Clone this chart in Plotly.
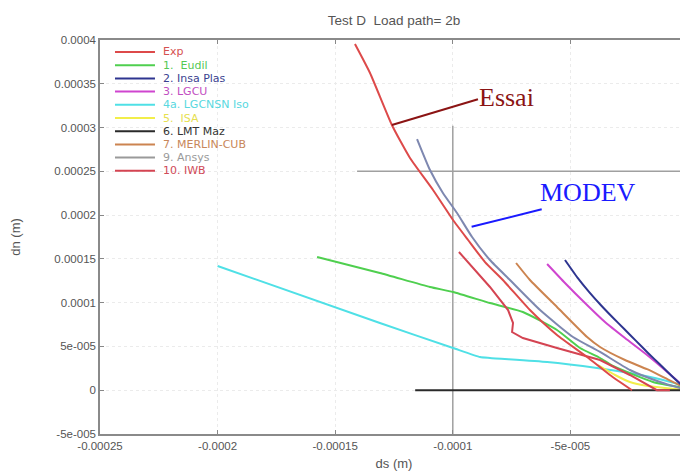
import plotly.graph_objects as go

# ---------------- data (m) ----------------
title_text = "Test D  Load path= 2b"
x_tick_vals = [-0.00025, -0.0002, -0.00015, -0.0001, -0.00005, 0]
x_tick_text = ["-0.00025", "-0.0002", "-0.00015", "-0.0001", "-5e-005", "0"]
y_tick_vals = [-0.00005, 0, 0.00005, 0.0001, 0.00015, 0.0002, 0.00025, 0.0003, 0.00035, 0.0004]
y_tick_text = ["-5e-005", "0", "5e-005", "0.0001", "0.00015", "0.0002", "0.00025", "0.0003", "0.00035", "0.0004"]

exp_ds = [-141.6e-6, -135.2e-6, -125.9e-6, -118.2e-6, -108.4e-6, -99.9e-6, -93.5e-6, -86.3e-6, -78.7e-6, -67.2e-6, -55.7e-6, -42.9e-6, -33.2e-6, -23.8e-6]
exp_dn = [395.4e-6, 362.3e-6, 302.9e-6, 265.2e-6, 228.7e-6, 194.4e-6, 171.6e-6, 146.4e-6, 125.9e-6, 91.6e-6, 63.1e-6, 37.9e-6, 17.4e-6, 0.0]

eudil_ds = [-157.7e-6, -131.0e-6, -109.7e-6, -99.9e-6, -84.2e-6, -70.2e-6, -55.7e-6, -45.9e-6, -37.4e-6, -31.9e-6, -14.9e-6, -1.3e-6]
eudil_dn = [152.2e-6, 133.9e-6, 117.9e-6, 112.2e-6, 99.6e-6, 89.3e-6, 68.8e-6, 48.2e-6, 36.8e-6, 27.7e-6, 9.4e-6, 2.5e-6]

insa_ds = [-52.3e-6, -47.0e-6, -42.0e-6, -37.0e-6, -32.0e-6, -27.0e-6, -22.0e-6, -17.0e-6, -12.0e-6, -7.0e-6, -3.0e-6, 0.0]
insa_dn = [148.7e-6, 128.6e-6, 112.1e-6, 97.1e-6, 83.1e-6, 69.6e-6, 56.1e-6, 42.6e-6, 29.6e-6, 16.6e-6, 6.6e-6, 0.0]

lgcu_ds = [-59.9e-6, -52.3e-6, -43.8e-6, -35.3e-6, -26.8e-6, -17.4e-6, -9.8e-6, -3.4e-6, 0.0]
lgcu_dn = [144.2e-6, 122.5e-6, 99.6e-6, 77.9e-6, 59.6e-6, 40.2e-6, 23.1e-6, 8.2e-6, 0.0]

lgcnsn_ds = [-200.0e-6, -131.0e-6, -99.9e-6, -88.4e-6, -84.2e-6, -59.9e-6, -38.7e-6, -24.7e-6, -10.6e-6, -2.1e-6, 0.0]
lgcnsn_dn = [141.9e-6, 76.8e-6, 48.2e-6, 37.9e-6, 36.8e-6, 32.2e-6, 25.4e-6, 19.7e-6, 11.7e-6, 4.8e-6, 0.0]

isa_ds = [-38.3e-6, -31.0e-6, -24.7e-6, -17.0e-6, -9.8e-6, 0.0]
isa_dn = [28.8e-6, 17.4e-6, 9.4e-6, 4.8e-6, 2.5e-6, 0.0]

lmt_ds = [-116.0e-6, 0.0]
lmt_dn = [0.0, 0.0]

merlin_ds = [-73.1e-6, -67.2e-6, -55.7e-6, -42.9e-6, -37.4e-6, -26.8e-6, -17.4e-6, -9.8e-6, -2.1e-6, 0.0]
merlin_dn = [145.3e-6, 125.9e-6, 95.1e-6, 60.8e-6, 49.4e-6, 34.5e-6, 24.0e-6, 14.0e-6, 3.7e-6, 0.0]

ansys_ds = [-115.2e-6, -109.7e-6, -104.2e-6, -98.2e-6, -91.8e-6, -84.2e-6, -75.7e-6, -62.9e-6, -48.9e-6, -37.4e-6, -24.7e-6, -11.9e-6, -3.4e-6, 0.0]
ansys_dn = [286.9e-6, 251.5e-6, 225.3e-6, 202.4e-6, 175.0e-6, 148.7e-6, 125.9e-6, 91.6e-6, 60.8e-6, 43.7e-6, 23.1e-6, 9.4e-6, 2.5e-6, 0.0]

iwb_ds = [-97.4e-6, -89.7e-6, -84.2e-6, -76.5e-6, -74.4e-6, -74.8e-6, -70.2e-6, -55.7e-6, -44.6e-6, -37.4e-6, -24.7e-6, -13.2e-6, -7.7e-6]
iwb_dn = [157.9e-6, 133.9e-6, 117.9e-6, 91.6e-6, 76.8e-6, 66.5e-6, 59.6e-6, 48.2e-6, 40.2e-6, 34.5e-6, 17.4e-6, 0.0, 0.0]

# reference cross lines (gray)
hline_ds = [-140.7e-6, 0.0]
hline_dn = [250e-6, 250e-6]
vline_ds = [-100e-6, -100e-6]
vline_dn = [302e-6, -50e-6]

series_names = ["Exp", "1.  Eudil", "2. Insa Plas", "3. LGCU", "4a. LGCNSN Iso", "5.  ISA",
                "6. LMT Maz", "7. MERLIN-CUB", "9. Ansys", "10. IWB"]
series_ds = [exp_ds, eudil_ds, insa_ds, lgcu_ds, lgcnsn_ds, isa_ds, lmt_ds, merlin_ds, ansys_ds, iwb_ds]
series_dn = [exp_dn, eudil_dn, insa_dn, lgcu_dn, lgcnsn_dn, isa_dn, lmt_dn, merlin_dn, ansys_dn, iwb_dn]
line_colors = ["#dd4a4a", "#4fcf4f", "#2e3590", "#cf45cf", "#4fe0e6", "#f2ee4a",
               "#2a2a2a", "#cc8450", "#7e88b0", "#d44452"]
legend_line_colors = ["#dd4a4a", "#4fcf4f", "#2e3590", "#cf45cf", "#4fe0e6", "#f2ee4a",
                      "#2a2a2a", "#cc8450", "#9a9a9a", "#d44452"]
legend_text_colors = ["#d55050", "#55c855", "#3a3f90", "#c24ec2", "#58d8e0", "#e6e050",
                      "#333333", "#c8875a", "#9a9a9a", "#d04a58"]

# annotation labels
essai_line_ds = [-125.9e-6, -89.3e-6]
essai_line_dn = [302.9e-6, 332.3e-6]
essai_text_pos = (-89.7e-6, 334e-6)
modev_line_ds = [-92.0e-6, -62.2e-6]
modev_line_dn = [186.8e-6, 206.6e-6]
modev_text_pos = (-63.8e-6, 225.3e-6)

# ---------------- figure ----------------
fig = go.Figure()

for xs, ys, col in [(hline_ds, hline_dn, "#a0a0a0"), (vline_ds, vline_dn, "#a0a0a0")]:
    fig.add_trace(go.Scatter(x=xs, y=ys, mode="lines", line=dict(color=col, width=1.5),
                             showlegend=False, hoverinfo="skip"))

draw_order = [4, 1, 5, 6, 7, 3, 2, 9, 8, 0]
for i in draw_order:
    shape = "linear" if series_names[i] in ("10. IWB", "6. LMT Maz") else "spline"
    fig.add_trace(go.Scatter(x=series_ds[i], y=series_dn[i], mode="lines", name=series_names[i],
                             line=dict(color=line_colors[i], width=2, shape=shape, smoothing=0.5),
                             showlegend=False))

fig.add_trace(go.Scatter(x=essai_line_ds, y=essai_line_dn, mode="lines",
                         line=dict(color="#8b1414", width=2), showlegend=False, hoverinfo="skip"))
fig.add_trace(go.Scatter(x=modev_line_ds, y=modev_line_dn, mode="lines",
                         line=dict(color="#1a1aff", width=2), showlegend=False, hoverinfo="skip"))

fig.add_annotation(x=essai_text_pos[0], y=essai_text_pos[1], text="Essai", showarrow=False,
                   xanchor="left", yanchor="middle",
                   font=dict(family="Liberation Serif, Times New Roman, serif", size=26, color="#8b1414"))
fig.add_annotation(x=modev_text_pos[0], y=modev_text_pos[1], text="MODEV", showarrow=False,
                   xanchor="left", yanchor="middle",
                   font=dict(family="Liberation Serif, Times New Roman, serif", size=26, color="#1a1aff"))

# manual legend (compact rows like the original)
plot_h = 394.0
legend_top_px = 12.0
row_step_px = 13.2
for i, name in enumerate(series_names):
    yp = 1 - (legend_top_px + i * row_step_px) / plot_h
    fig.add_shape(type="line", xref="paper", yref="paper", x0=0.0255, x1=0.0935, y0=yp, y1=yp,
                  line=dict(color=legend_line_colors[i], width=2))
    fig.add_annotation(xref="paper", yref="paper", x=0.106, y=yp, text=name, showarrow=False,
                       xanchor="left", yanchor="middle", borderpad=0,
                       font=dict(family="DejaVu Sans, Verdana, sans-serif", size=11,
                                 color=legend_text_colors[i]))

axis_common = dict(
    ticks="inside", ticklen=4, tickcolor="#888888", showline=True, linecolor="#8a8a8a",
    linewidth=1.5, mirror="ticks", showgrid=True, gridcolor="#ebebeb", griddash="dot",
    zeroline=False, tickfont=dict(family="Liberation Sans, Arial, sans-serif", size=11.5, color="#555555"),
    automargin=False,
)

fig.update_layout(
    width=680, height=466,
    margin=dict(l=92, r=0, t=32, b=40),
    paper_bgcolor="white", plot_bgcolor="white",
    showlegend=False,
    title=dict(text=title_text, x=0.5, xref="paper", y=1 - 12 / 466, yref="container",
               xanchor="center", yanchor="middle",
               font=dict(family="Liberation Sans, Arial, sans-serif", size=13.5, color="#555555")),
    xaxis=dict(range=[-0.00025, 0], tickvals=x_tick_vals, ticktext=x_tick_text,
               title=dict(text="ds (m)", standoff=8,
                          font=dict(family="Liberation Sans, Arial, sans-serif", size=13, color="#555555")),
               **axis_common),
    yaxis=dict(range=[-0.00005, 0.0004], tickvals=y_tick_vals, ticktext=y_tick_text,
               title=dict(text="dn (m)", standoff=33,
                          font=dict(family="Liberation Sans, Arial, sans-serif", size=13, color="#555555")),
               **axis_common),
)

fig.write_html("out.html")
